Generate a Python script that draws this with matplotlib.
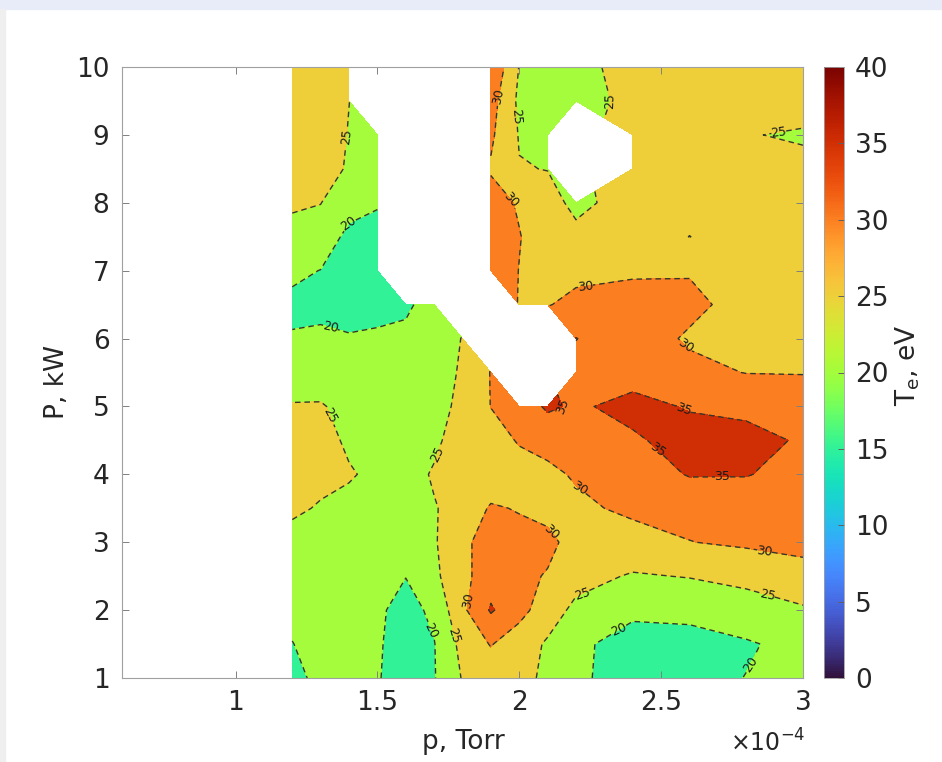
import numpy as np
import matplotlib
matplotlib.use("Agg")
import matplotlib.pyplot as plt
from matplotlib.patches import Rectangle
from matplotlib.ticker import FuncFormatter
from matplotlib import cm, colors as mcolors

# Pressure grid (Torr) and power grid (kW)
pressure = np.array([1.2, 1.3, 1.4, 1.5, 1.6, 1.7, 1.8, 1.9, 2.0, 2.1, 2.2, 2.4, 2.6, 2.8, 3.0]) * 1e-4
power = np.array([1.0, 1.5, 2.0, 2.5, 3.0, 3.5, 4.0, 4.5, 5.0, 5.5,
                  6.0, 6.5, 7.0, 7.5, 8.0, 8.5, 9.0, 9.5, 10.0])

nan = np.nan
# Electron temperature Te (eV); one row per power value, from 1 kW to 10 kW
te_rows = [
    [18.0, 21.8, 21.0, 20.3, 18.0, 19.7, 25.3, 27.0, 26.5, 24.0, 21.0, 17.5, 18.5, 20.1, 21.5],   # 1.0
    [19.9, 21.5, 21.0, 20.5, 18.0, 19.8, 26.5, 30.3, 27.0, 24.5, 21.0, 18.0, 18.0, 19.5, 21.5],   # 1.5
    [21.0, 21.5, 21.5, 20.8, 18.3, 21.0, 29.0, 35.5, 31.8, 27.0, 24.0, 21.0, 21.5, 23.0, 24.4],   # 2.0
    [22.0, 22.0, 22.0, 21.0, 20.1, 24.0, 28.5, 33.0, 31.0, 29.7, 26.5, 24.6, 25.2, 26.2, 28.5],   # 2.5
    [23.0, 23.0, 22.5, 22.0, 21.5, 24.5, 29.0, 32.0, 31.5, 31.0, 28.5, 28.0, 29.9, 30.8, 31.2],   # 3.0
    [26.0, 24.5, 23.5, 23.0, 22.5, 24.7, 26.8, 30.5, 29.7, 28.8, 29.0, 31.0, 31.5, 32.5, 32.0],   # 3.5
    [27.0, 26.5, 25.5, 23.8, 23.0, 25.5, 27.5, 27.0, 28.0, 29.0, 30.5, 32.5, 35.3, 35.2, 33.5],   # 4.0
    [27.0, 27.0, 24.1, 23.5, 23.0, 24.0, 27.5, 28.0, 30.4, 31.5, 32.0, 34.3, 37.0, 37.0, 34.3],   # 4.5
    [25.4, 25.4, 23.5, 23.0, 22.5, 23.5, 26.0, 30.1, 32.0, 35.8, 34.3, 36.5, 34.6, 33.5, 31.5],   # 5.0
    [22.0, 22.5, 22.5, 22.0, 22.0, 23.5, 25.4, 30.2, nan, nan, 33.5, 33.0, 31.0, 29.9, 29.9],     # 5.5
    [20.4, 21.4, 20.4, 21.2, 21.3, 23.5, 25.1, nan, nan, nan, 35.1, 32.0, 29.5, 27.5, 28.5],      # 6.0
    [18.9, 18.0, 18.0, 17.5, 19.0, 22.5, nan, nan, 29.8, 29.8, 31.0, 31.5, 31.0, 28.5, 27.5],     # 6.5
    [21.0, 19.9, 17.0, 17.0, nan, nan, nan, 33.0, 29.9, 28.0, 29.0, 29.5, 29.7, 28.0, 27.0],      # 7.0
    [22.7, 23.0, 18.7, 18.0, nan, nan, nan, 33.0, 30.2, 27.5, 26.0, 27.5, 24.95, 27.0, 27.0],     # 7.5
    [26.0, 25.1, 22.0, 20.5, nan, nan, nan, 32.0, 29.5, 26.5, 24.0, 26.7, 26.5, 27.0, 27.0],      # 8.0
    [27.0, 27.0, 24.5, 22.0, nan, nan, nan, 29.5, 25.2, 24.9, nan, 27.0, 27.0, 26.5, 26.6],       # 8.5
    [27.0, 27.5, 24.8, 22.0, nan, nan, nan, 30.8, 24.7, 23.0, nan, 27.0, 27.0, 25.3, 24.3],       # 9.0
    [28.0, 28.0, 25.05, nan, nan, nan, nan, 32.0, 24.0, 22.5, 23.0, 26.3, 27.0, 27.0, 27.8],      # 9.5
    [28.0, 28.0, 26.0, nan, nan, nan, nan, 34.5, 24.8, 23.0, 23.5, 26.8, 27.0, 27.0, 27.0],       # 10.0
]
te = np.ma.masked_invalid(np.array(te_rows))

levels = np.arange(0, 45, 5)
line_levels = [15, 20, 25, 30, 35]
cbar_ticks = np.arange(0, 45, 5)

# Label anchor points (p in Torr, P in kW)
label_points = [
    (1.362e-4, 9.00), (1.394e-4, 7.72), (1.333e-4, 6.13), (1.337e-4, 4.87),
    (1.699e-4, 4.33), (1.695e-4, 1.71), (1.770e-4, 1.62), (1.816e-4, 2.15),
    (2.124e-4, 3.21), (2.213e-4, 3.80), (2.220e-4, 2.28), (2.351e-4, 1.74),
    (2.805e-4, 1.24), (2.876e-4, 2.24), (2.865e-4, 2.87), (2.170e-4, 5.04),
    (2.574e-4, 4.86), (2.482e-4, 4.33), (2.716e-4, 3.89), (2.585e-4, 5.88),
    (2.234e-4, 6.72), (1.936e-4, 9.56), (1.979e-4, 9.26), (1.965e-4, 8.00),
    (2.323e-4, 9.51), (2.915e-4, 9.03),
]

plt.rcParams['font.family'] = ['DejaVu Sans']
turbo = matplotlib.colormaps['turbo']
vmin, vmax = 0, 40
band_colors = [turbo((lv - vmin) / (vmax - vmin)) for lv in levels[:-1]]

W, H = 942, 762
fig = plt.figure(figsize=(W / 100, H / 100), dpi=100)
fig.patch.set_facecolor('white')
# page frame strips
fig.patches.append(Rectangle((0, 1 - 9 / H), 1, 9 / H, transform=fig.transFigure,
                             color='#e8ecf8', zorder=0))
fig.patches.append(Rectangle((0, 0), 5 / W, 1 - 9 / H, transform=fig.transFigure,
                             color='#efefef', zorder=0))

ax = fig.add_axes([122 / W, 1 - 678 / H, (803 - 122) / W, (678 - 67) / H])
cax = fig.add_axes([824 / W, 1 - 678 / H, 20 / W, (678 - 67) / H])

X, Y = np.meshgrid(pressure, power)
ax.contourf(X, Y, te, levels=levels, colors=band_colors, corner_mask=True)
cs = ax.contour(X, Y, te, levels=line_levels, colors='#34382a', linewidths=1.0,
                linestyles='--', corner_mask=True)
cs.set_dashes([(0, (4.0, 2.8))])
ax.clabel(cs, manual=label_points, inline=True, fontsize=9, colors='#1a1a1a',
          fmt='%d', inline_spacing=2)

ax.set_xlim(0.6e-4, 3.0e-4)
ax.set_ylim(1, 10)
ax.set_xticks(np.array([1.0, 1.5, 2.0, 2.5, 3.0]) * 1e-4)
ax.set_yticks(np.arange(1, 11, 1))
ax.xaxis.set_major_formatter(FuncFormatter(lambda v, pos: f"{v / 1e-4:g}"))
ax.tick_params(direction='in', length=5, width=0.7, color='#808080',
               top=True, right=True, labelsize=19, labelcolor='#262626', pad=9)
for sp in ax.spines.values():
    sp.set_color('#a0a0a0')
    sp.set_linewidth(0.8)

sm = cm.ScalarMappable(norm=mcolors.Normalize(vmin, vmax), cmap=turbo)
cb = fig.colorbar(sm, cax=cax, ticks=cbar_ticks)
cb.outline.set_edgecolor('#a0a0a0')
cb.outline.set_linewidth(0.6)
cax.tick_params(direction='in', length=4, width=0.7, color='#606060',
                labelsize=19, labelcolor='#262626', pad=8)

fig.text(463 / W, 1 - 742 / H, 'p, Torr', ha='center', va='center',
         fontsize=19, color='#262626')
fig.text(57 / W, 1 - 382 / H, 'P, kW', ha='center', va='center', rotation=90,
         fontsize=19, color='#262626')
fig.text(908 / W, 1 - 365 / H, r'T$_\mathregular{e}$, eV', ha='center', va='center',
         rotation=90, fontsize=19, color='#262626')
fig.text(805 / W, 1 - 757 / H, r'$\times$10$^{-4}$', ha='right', va='bottom',
         fontsize=17, color='#262626')

fig.savefig('out.png', dpi=100)
